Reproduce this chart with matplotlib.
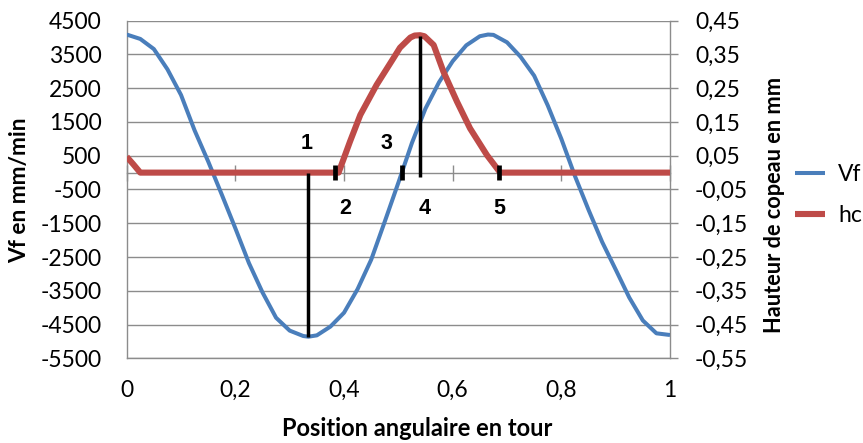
import matplotlib
matplotlib.use("Agg")
import matplotlib.pyplot as plt

# ---- data ----
vf_pos = [0.000, 0.025, 0.050, 0.075, 0.100, 0.125, 0.150, 0.175, 0.200, 0.225,
          0.250, 0.275, 0.300, 0.325, 0.3345, 0.350, 0.375, 0.400, 0.425, 0.450,
          0.475, 0.500, 0.525, 0.550, 0.575, 0.600, 0.625, 0.650, 0.665, 0.675,
          0.700, 0.725, 0.750, 0.775, 0.800, 0.825, 0.850, 0.875, 0.900, 0.925,
          0.950, 0.975, 1.000]
vf_vals = [4090, 3960, 3660, 3060, 2300, 1250, 330, -650, -1650, -2680,
           -3550, -4300, -4680, -4840, -4860, -4820, -4560, -4150, -3450, -2580,
           -1450, -300, 880, 1900, 2680, 3300, 3770, 4040, 4090, 4080,
           3860, 3430, 2870, 1990, 1000, -100, -1100, -2050, -2870, -3700,
           -4380, -4760, -4810]

hc_pos = [0.000, 0.012, 0.025, 0.390, 0.411, 0.430, 0.460, 0.491, 0.503, 0.522,
          0.530, 0.540, 0.548, 0.565, 0.583, 0.608, 0.632, 0.663, 0.6875, 1.000]
hc_vals = [0.047, 0.025, 0.000, 0.000, 0.092, 0.171, 0.260, 0.339, 0.370, 0.400,
           0.406, 0.407, 0.404, 0.378, 0.299, 0.210, 0.131, 0.052, 0.000, 0.000]

# annotation markers (positions in tour, heights in hc units)
long_x = [0.3345, 0.540]
long_lo = [-0.486, -0.012]
long_hi = [0.000, 0.405]
short_x = [0.3836, 0.5076, 0.686]
short_lo = -0.023
short_hi = 0.022
num_labels = ["1", "2", "3", "4", "5"]
num_x = [0.3315, 0.402, 0.4775, 0.5475, 0.686]
num_y = [0.087, -0.105, 0.085, -0.105, -0.105]

left_ticks = [4500, 3500, 2500, 1500, 500, -500, -1500, -2500, -3500, -4500, -5500]
right_ticks = [0.45, 0.35, 0.25, 0.15, 0.05, -0.05, -0.15, -0.25, -0.35, -0.45, -0.55]
right_labels = ["0,45", "0,35", "0,25", "0,15", "0,05", "-0,05", "-0,15", "-0,25",
                "-0,35", "-0,45", "-0,55"]
x_ticks = [0, 0.2, 0.4, 0.6, 0.8, 1]
x_labels = ["0", "0,2", "0,4", "0,6", "0,8", "1"]

BLUE = "#4A7EBB"
RED = "#BE4B48"
GRID = "#8C8C8C"
FONT = ["Lato", "DejaVu Sans"]
TS = 16.5
PX = 72 / 100  # points per pixel

plt.rcParams['font.family'] = FONT

fig = plt.figure(figsize=(8.63, 4.43), dpi=100)
ax = fig.add_axes([126.7 / 863, 1 - 358.3 / 443, (670 - 126.7) / 863, (358.3 - 20.7) / 443])
ax2 = ax.twinx()

l1, = ax.plot(vf_pos, vf_vals, color=BLUE, lw=2.9, solid_capstyle='butt',
              solid_joinstyle='round', zorder=3)
ax.set_xlim(0, 1)
ax.set_ylim(-5500, 4500)
ax.set_yticks(left_ticks)
ax.set_yticklabels([str(t) for t in left_ticks])
ax.yaxis.grid(True, color=GRID, lw=1.0)
ax.set_axisbelow(True)
ax.tick_params(axis='y', length=0, pad=25 * PX, labelsize=TS)

# x axis line crossing at zero, labels at bottom
ax.set_xticks(x_ticks)
ax.set_xticklabels(x_labels)
ax.spines['top'].set_position(('data', 0))
ax.xaxis.set_ticks_position('both')
ax.tick_params(axis='x', bottom=False, top=True, labelbottom=True, labeltop=False,
               direction='inout', length=16 * PX, width=1.0, color=GRID, labelsize=TS,
               pad=14 * PX)
for s in ax.spines.values():
    s.set_color(GRID)
    s.set_linewidth(1.0)

l2, = ax2.plot(hc_pos, hc_vals, color=RED, lw=4.4, solid_capstyle='butt',
               solid_joinstyle='round', zorder=3)
ax2.set_ylim(-0.55, 0.45)
ax2.set_yticks(right_ticks)
ax2.set_yticklabels(right_labels, ha='left')
ax2.tick_params(axis='y', direction='out', length=8 * PX, width=1.0, color=GRID,
                labelsize=TS, pad=17 * PX)
for s in ax2.spines.values():
    s.set_visible(False)

ax2.vlines(long_x, long_lo, long_hi, colors='black', lw=2.5, zorder=5)
ax2.vlines(short_x, short_lo, short_hi, colors='black', lw=3.4, zorder=5)
for t, xx, yy in zip(num_labels, num_x, num_y):
    ax2.text(xx, yy, t, ha='center', va='center', fontsize=15.5, fontweight='bold',
             family=['Liberation Sans Narrow', 'Liberation Sans', 'DejaVu Sans'], zorder=6)

fig.text(20 / 863, 1 - 190 / 443, "Vf en mm/min", rotation=90, ha='center', va='center',
         fontsize=16.3, fontweight='bold')
fig.text(774 / 863, 1 - 205 / 443, "Hauteur de copeau en mm", rotation=90, ha='center',
         va='center', fontsize=15.7, fontweight='bold')
fig.text(417 / 863, 1 - 429 / 443, "Position angulaire en tour", ha='center', va='center',
         fontsize=17, fontweight='bold')

fig.legend([l1, l2], ["Vf", "hc"], loc='center left', bbox_to_anchor=(795 / 863, 1 - 195 / 443),
           frameon=False, fontsize=TS, handlelength=30 / (TS / PX), handletextpad=13 / (TS / PX),
           labelspacing=0.85, borderpad=0, borderaxespad=0)

fig.savefig("out.png", dpi=100)
